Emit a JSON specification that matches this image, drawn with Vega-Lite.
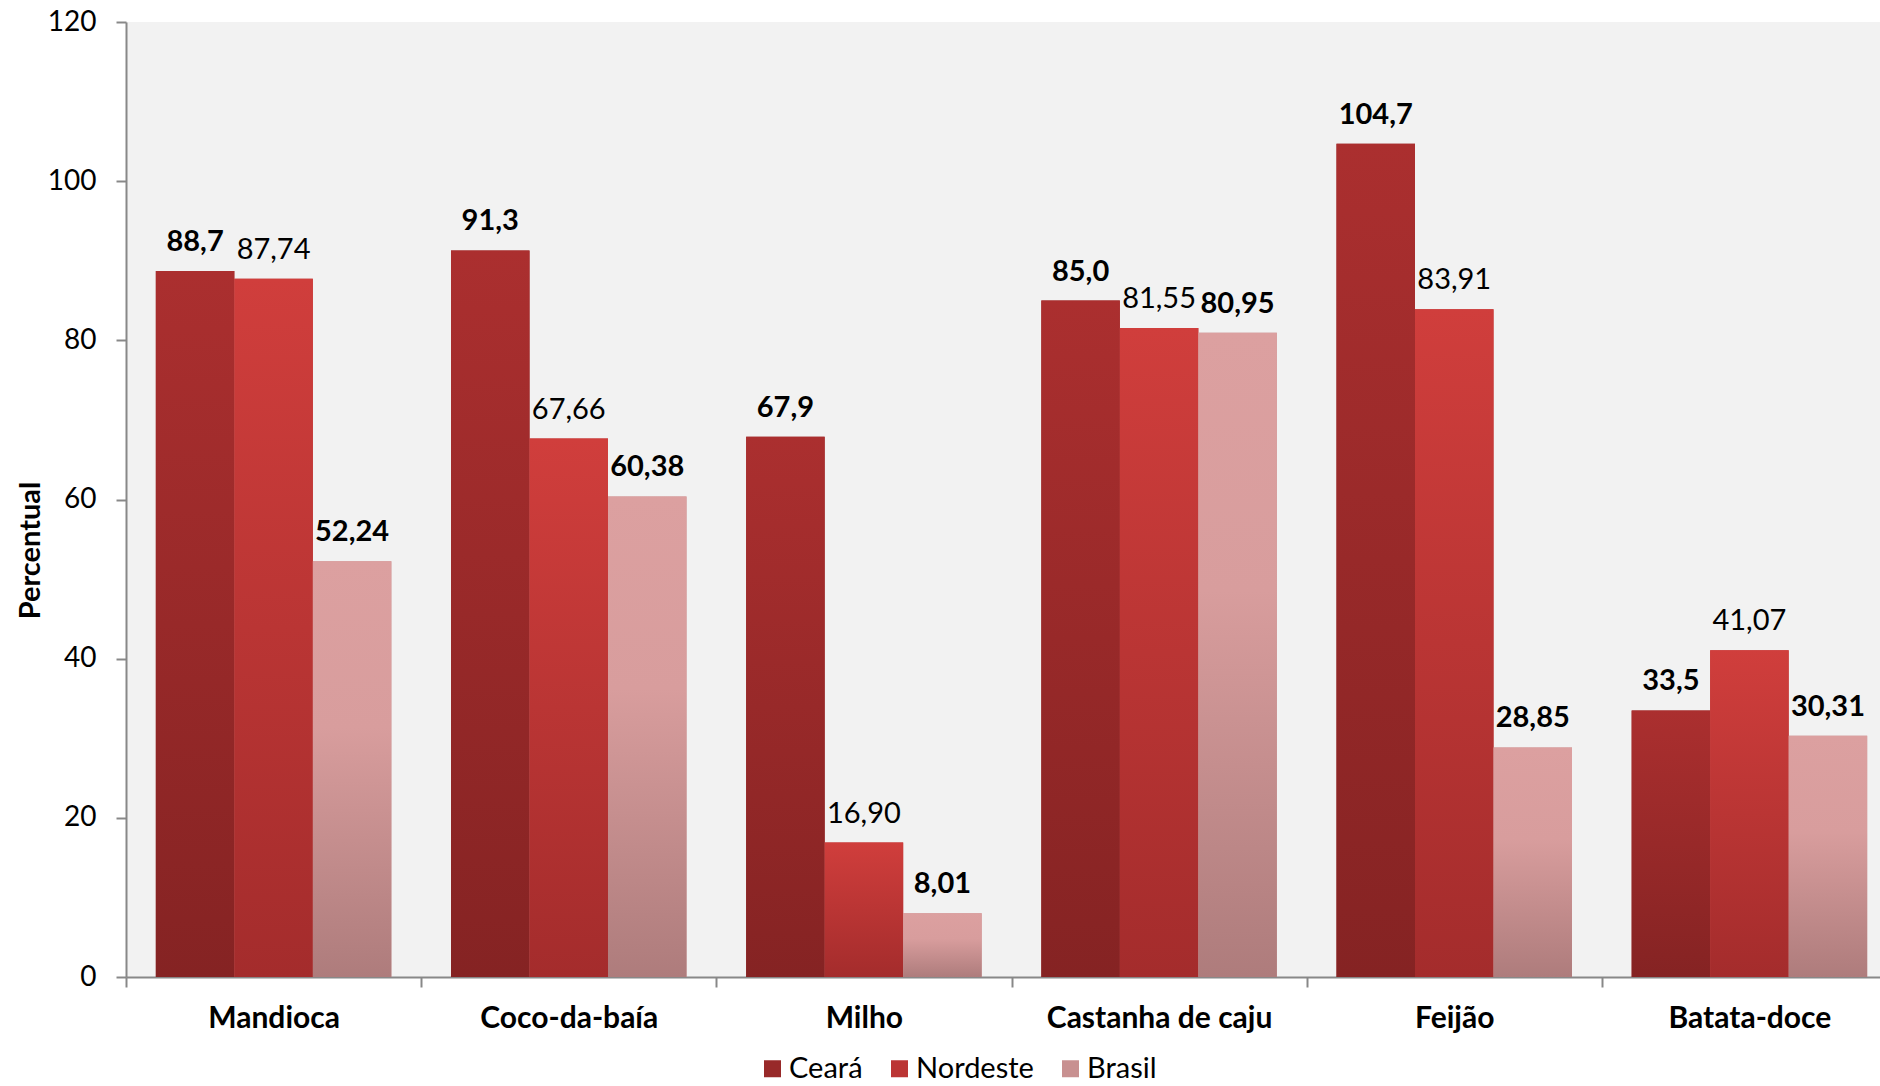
{
  "$schema": "https://vega.github.io/schema/vega-lite/v6.json",
  "width": 1754,
  "height": 955,
  "autosize": {"type": "none"},
  "padding": {"left": 126, "top": 22, "right": 0, "bottom": 109},
  "background": "white",
  "config": {
    "locale": {"number": {"decimal": ",", "thousands": ".", "grouping": [3], "currency": ["R$ ", ""]}},
    "view": {"fill": "#f2f2f2", "stroke": null},
    "font": "Lato"
  },
  "data": {
    "values": [
      {"cultura": "Mandioca", "regiao": "Ceará", "valor": 88.7},
      {"cultura": "Mandioca", "regiao": "Nordeste", "valor": 87.74},
      {"cultura": "Mandioca", "regiao": "Brasil", "valor": 52.24},
      {"cultura": "Coco-da-baía", "regiao": "Ceará", "valor": 91.3},
      {"cultura": "Coco-da-baía", "regiao": "Nordeste", "valor": 67.66},
      {"cultura": "Coco-da-baía", "regiao": "Brasil", "valor": 60.38},
      {"cultura": "Milho", "regiao": "Ceará", "valor": 67.9},
      {"cultura": "Milho", "regiao": "Nordeste", "valor": 16.9},
      {"cultura": "Milho", "regiao": "Brasil", "valor": 8.01},
      {"cultura": "Castanha de caju", "regiao": "Ceará", "valor": 85.0},
      {"cultura": "Castanha de caju", "regiao": "Nordeste", "valor": 81.55},
      {"cultura": "Castanha de caju", "regiao": "Brasil", "valor": 80.95},
      {"cultura": "Feijão", "regiao": "Ceará", "valor": 104.7},
      {"cultura": "Feijão", "regiao": "Nordeste", "valor": 83.91},
      {"cultura": "Feijão", "regiao": "Brasil", "valor": 28.85},
      {"cultura": "Batata-doce", "regiao": "Ceará", "valor": 33.5},
      {"cultura": "Batata-doce", "regiao": "Nordeste", "valor": 41.07},
      {"cultura": "Batata-doce", "regiao": "Brasil", "valor": 30.31}
    ]
  },
  "encoding": {
    "x": {
      "field": "cultura",
      "type": "nominal",
      "sort": ["Mandioca", "Coco-da-baía", "Milho", "Castanha de caju", "Feijão", "Batata-doce"],
      "scale": {"paddingInner": 0, "paddingOuter": 0, "range": [0, 1771]},
      "axis": {
        "title": null,
        "labelAngle": 0,
        "labelFontWeight": "bold",
        "labelFontSize": 30,
        "labelLimit": 0,
        "labelColor": "black",
        "labelPadding": 16,
        "domainColor": "#888888",
        "domainWidth": 2,
        "tickColor": "#888888",
        "tickWidth": 2,
        "tickSize": 10,
        "tickBand": "extent"
      }
    },
    "xOffset": {
      "field": "regiao",
      "type": "nominal",
      "sort": ["Ceará", "Nordeste", "Brasil"],
      "scale": {"paddingInner": 0, "paddingOuter": 0.38}
    },
    "y": {
      "field": "valor",
      "type": "quantitative",
      "scale": {"domain": [0, 120], "nice": false},
      "axis": {
        "title": "Percentual",
        "titleFontWeight": "bold",
        "titleFontSize": 29,
        "titleColor": "black",
        "titleX": -87,
        "titleY": 528,
        "titleAngle": -90,
        "titleAlign": "center",
        "titleBaseline": "alphabetic",
        "values": [0, 20, 40, 60, 80, 100, 120],
        "labelFontSize": 28,
        "labelColor": "black",
        "labelPadding": 20,
        "grid": false,
        "domainColor": "#888888",
        "domainWidth": 2,
        "tickColor": "#888888",
        "tickWidth": 2,
        "tickSize": 10
      }
    }
  },
  "layer": [
    {
      "mark": {"type": "bar"},
      "encoding": {
        "color": {
          "field": "regiao",
          "type": "nominal",
          "sort": ["Ceará", "Nordeste", "Brasil"],
          "scale": {
            "domain": ["Ceará", "Nordeste", "Brasil"],
            "range": ["#982929", "#bb3534", "#c89090"]
          },
          "legend": {
            "title": null,
            "orient": "none",
            "legendX": 632,
            "legendY": 1032,
            "direction": "horizontal",
            "symbolType": "square",
            "symbolSize": 289,
            "symbolStrokeWidth": 0,
            "symbolOpacity": 1,
            "labelFontSize": 29,
            "labelColor": "black",
            "labelOffset": 2,
            "columnPadding": 22,
            "padding": 0
          }
        }
      }
    },
    {
      "transform": [{"filter": "datum.regiao === 'Ceará'"}],
      "mark": {"type": "bar", "fill": {"gradient": "linear", "x1": 0, "y1": 0, "x2": 0, "y2": 1, "stops": [{"offset": 0, "color": "#ab2f2f"}, {"offset": 1, "color": "#852323"}]}},
      "encoding": {}
    },
    {
      "transform": [{"filter": "datum.regiao === 'Nordeste'"}],
      "mark": {"type": "bar", "fill": {"gradient": "linear", "x1": 0, "y1": 0, "x2": 0, "y2": 1, "stops": [{"offset": 0, "color": "#d03e3c"}, {"offset": 1, "color": "#a42c2c"}]}},
      "encoding": {}
    },
    {
      "transform": [{"filter": "datum.regiao === 'Brasil'"}],
      "mark": {"type": "bar", "fill": {"gradient": "linear", "x1": 0, "y1": 0, "x2": 0, "y2": 1, "stops": [{"offset": 0, "color": "#dca0a0"}, {"offset": 0.4, "color": "#d89d9d"}, {"offset": 1, "color": "#ae7c7c"}]}},
      "encoding": {}
    },
    {
      "transform": [{"filter": "datum.regiao === 'Ceará'"}],
      "mark": {"type": "text", "fontWeight": "bold", "fontSize": 29, "baseline": "alphabetic", "dy": -20, "color": "black"},
      "encoding": {"text": {"field": "valor", "type": "quantitative", "format": ".1f"}}
    },
    {
      "transform": [{"filter": "datum.regiao === 'Nordeste'"}],
      "mark": {"type": "text", "fontWeight": "normal", "fontSize": 29, "baseline": "alphabetic", "dy": -20, "color": "black"},
      "encoding": {"text": {"field": "valor", "type": "quantitative", "format": ".2f"}}
    },
    {
      "transform": [{"filter": "datum.regiao === 'Brasil'"}],
      "mark": {"type": "text", "fontWeight": "bold", "fontSize": 29, "baseline": "alphabetic", "dy": -20, "color": "black"},
      "encoding": {"text": {"field": "valor", "type": "quantitative", "format": ".2f"}}
    }
  ]
}
